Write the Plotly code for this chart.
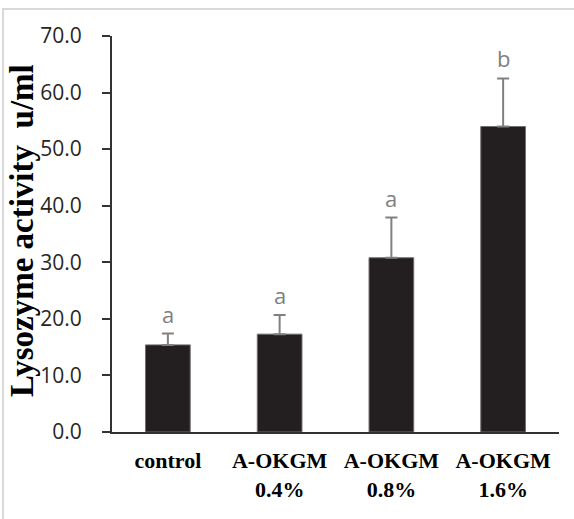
import plotly.graph_objects as go

categories = ["<b>control</b>", "<b>A-OKGM<br>0.4%</b>", "<b>A-OKGM<br>0.8%</b>", "<b>A-OKGM<br>1.6%</b>"]
values = [15.4, 17.3, 30.8, 54.0]
errors = [2.0, 3.4, 7.1, 8.5]
letters = ["a", "a", "a", "b"]
y_ticks = [0, 10, 20, 30, 40, 50, 60, 70]

W, H = 574, 519
L, R, T, B = 112, 15, 36, 87
pw, ph = W - L - R, H - T - B

def px_x(px):
    return (px - L) / pw

def px_y(py):
    return (H - B - py) / ph

fig = go.Figure()
fig.add_trace(go.Bar(
    x=categories, y=values,
    marker=dict(color="#231f20", line=dict(color="#6f6f6f", width=1)),
    error_y=dict(type="data", symmetric=False, array=errors, arrayminus=[0]*len(errors),
                 color="#808080", thickness=2, width=6),
    width=0.4,
))

for c, v, e, t in zip(categories, values, errors, letters):
    fig.add_annotation(x=c, y=v + e, text=t, showarrow=False, yanchor="bottom", yshift=3,
                       font=dict(family="Open Sans", size=22, color="#7f7f7f"))

fig.add_annotation(x=px_x(22), y=px_y(231), xref="paper", yref="paper",
                   xanchor="center", yanchor="middle",
                   text="<b>Lysozyme activity&nbsp; u/ml</b>", textangle=-90, showarrow=False,
                   font=dict(family="Liberation Serif", size=33, color="#000000"))

# chart frame (light gray)
fig.add_shape(type="rect", xref="paper", yref="paper",
              x0=px_x(3), x1=px_x(590), y0=px_y(530), y1=px_y(9),
              line=dict(color="#d9d9d9", width=2), fillcolor="rgba(0,0,0,0)", layer="below")

fig.update_layout(
    width=W, height=H,
    margin=dict(l=L, r=R, t=T, b=B, autoexpand=False),
    paper_bgcolor="white", plot_bgcolor="white",
    showlegend=False,
    bargap=0.6,
    xaxis=dict(showline=True, linecolor="#333333", linewidth=2, ticks="",
               ticklabelstandoff=8,
               tickfont=dict(family="Liberation Serif", size=22, color="#000000"),
               showgrid=False, zeroline=False),
    yaxis=dict(range=[0, 70], tickvals=y_ticks, tickformat=".1f", showline=True,
               linecolor="#333333", linewidth=2, ticks="outside", ticklen=8,
               tickcolor="#333333", tickwidth=2, showgrid=False, zeroline=False,
               ticklabelstandoff=16,
               tickfont=dict(family="Open Sans", size=21, color="#262626")),
)

fig.write_html("out.html", config={"displayModeBar": False},
               post_script="document.body.style.margin='0';")
